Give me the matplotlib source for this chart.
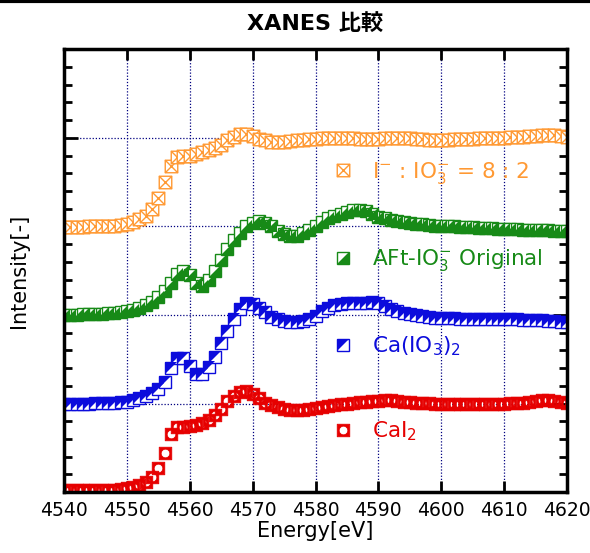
import numpy as np
import matplotlib
matplotlib.use('Agg')
import matplotlib.pyplot as plt
from matplotlib.path import Path
from matplotlib.lines import Line2D
from matplotlib.legend_handler import HandlerTuple

plt.rcParams['font.family'] = ['DejaVu Sans', 'Noto Sans CJK JP']

energy = np.arange(4540, 4621)  # eV, 1 eV step

# offset spectra (4540 .. 4620 eV)
cai2 = [0.02, 0.02, 0.02, 0.02, 0.02, 0.02, 0.025, 0.03, 0.03, 0.035,
        0.045, 0.06, 0.08, 0.12, 0.17, 0.27, 0.44, 0.66, 0.74, 0.74,
        0.75, 0.76, 0.78, 0.82, 0.87, 0.94, 1.03, 1.09, 1.13, 1.14,
        1.11, 1.06, 1.01, 0.98, 0.96, 0.94, 0.93, 0.93, 0.93, 0.94,
        0.95, 0.96, 0.97, 0.98, 0.99, 1.00, 1.01, 1.02, 1.02, 1.03,
        1.03, 1.04, 1.04, 1.03, 1.02, 1.02, 1.01, 1.01, 1.01, 1.00,
        1.00, 1.00, 1.00, 1.00, 1.00, 1.00, 1.00, 1.00, 1.00, 1.00,
        1.00, 1.01, 1.01, 1.01, 1.02, 1.03, 1.04, 1.04, 1.03, 1.02,
        1.01]
ca_io3 = [1.00, 1.00, 1.00, 1.00, 1.00, 1.01, 1.01, 1.01, 1.01, 1.02,
          1.02, 1.04, 1.06, 1.09, 1.12, 1.17, 1.24, 1.40, 1.52, 1.52,
          1.42, 1.33, 1.33, 1.41, 1.53, 1.68, 1.82, 1.95, 2.07, 2.13,
          2.12, 2.08, 2.03, 1.98, 1.95, 1.93, 1.92, 1.92, 1.93, 1.95,
          1.99, 2.04, 2.08, 2.11, 2.12, 2.13, 2.13, 2.13, 2.14, 2.15,
          2.13, 2.10, 2.07, 2.04, 2.02, 2.01, 2.00, 1.99, 1.98, 1.97,
          1.97, 1.97, 1.97, 1.96, 1.96, 1.96, 1.96, 1.96, 1.95, 1.95,
          1.95, 1.95, 1.95, 1.94, 1.94, 1.94, 1.94, 1.93, 1.93, 1.92,
          1.92]
aft = [2.00, 2.00, 2.00, 2.01, 2.01, 2.01, 2.01, 2.02, 2.02, 2.03,
       2.04, 2.06, 2.08, 2.11, 2.15, 2.20, 2.27, 2.36, 2.46, 2.50,
       2.45, 2.36, 2.33, 2.39, 2.50, 2.62, 2.74, 2.85, 2.93, 3.00,
       3.04, 3.06, 3.04, 3.00, 2.95, 2.91, 2.89, 2.89, 2.92, 2.96,
       3.01, 3.05, 3.09, 3.12, 3.14, 3.16, 3.18, 3.18, 3.17, 3.14,
       3.11, 3.09, 3.07, 3.06, 3.05, 3.04, 3.03, 3.03, 3.02, 3.01,
       3.01, 3.00, 3.00, 2.99, 2.99, 2.99, 2.98, 2.98, 2.98, 2.97,
       2.97, 2.97, 2.97, 2.96, 2.96, 2.96, 2.96, 2.96, 2.95, 2.95,
       2.95]
mix82 = [2.99, 2.99, 2.99, 2.99, 3.00, 3.00, 3.00, 3.00, 3.01, 3.02,
         3.03, 3.05, 3.08, 3.12, 3.20, 3.32, 3.50, 3.68, 3.78, 3.79,
         3.80, 3.82, 3.84, 3.86, 3.88, 3.92, 3.97, 4.01, 4.04, 4.04,
         4.02, 3.99, 3.97, 3.95, 3.95, 3.95, 3.96, 3.97, 3.98, 3.99,
         3.99, 4.00, 4.00, 4.00, 4.00, 4.00, 4.00, 3.99, 3.99, 3.99,
         3.99, 4.00, 4.00, 4.00, 4.00, 4.00, 3.99, 3.99, 3.98, 3.98,
         3.98, 3.98, 3.99, 3.99, 3.99, 3.99, 4.00, 4.00, 4.00, 4.00,
         4.00, 4.01, 4.01, 4.01, 4.02, 4.02, 4.03, 4.03, 4.03, 4.02,
         4.01]

labels = [r'I$^{-}$ : IO$_3^{-}$ = 8 : 2', r'AFt-IO$_3^{-}$ Original',
          r'Ca(IO$_3$)$_2$', r'CaI$_2$']
colors = ['#FF9933', '#178A17', '#0C0CDC', '#E60000']

# marker shapes
sq = [(-1, -1), (1, -1), (1, 1), (-1, 1), (-1, -1)]
sq_codes = [Path.MOVETO, Path.LINETO, Path.LINETO, Path.LINETO, Path.CLOSEPOLY]
m_cross = Path(sq + [(-1, -1), (1, 1), (-1, 1), (1, -1)],
               sq_codes + [Path.MOVETO, Path.LINETO, Path.MOVETO, Path.LINETO])
t = np.linspace(0, -2 * np.pi, 25)
circ = list(zip(0.7 * np.cos(t), 0.7 * np.sin(t)))
m_hole = Path(sq + circ, sq_codes + [Path.MOVETO] + [Path.LINETO] * 23 + [Path.CLOSEPOLY])
m_upleft = Path([(-1, -1), (-1, 1), (1, 1), (-1, -1)],
                [Path.MOVETO, Path.LINETO, Path.LINETO, Path.CLOSEPOLY])
m_lowright = Path([(-1, -1), (1, -1), (1, 1), (-1, -1)],
                  [Path.MOVETO, Path.LINETO, Path.LINETO, Path.CLOSEPOLY])

fig = plt.figure(figsize=(5.9, 5.53), dpi=100)
ax = fig.add_axes([0.1085, 0.110, 0.8525, 0.801])

ms = 9
mew = 1.0
h_or, = ax.plot(energy, mix82, ls='none', marker=m_cross, ms=ms, mew=mew,
                mec=colors[0], mfc='white')
g1, = ax.plot(energy, aft, ls='none', marker='s', ms=ms, mew=mew,
              mec=colors[1], mfc='white')
g2, = ax.plot(energy, aft, ls='none', marker=m_lowright, ms=ms, mew=0,
              mfc=colors[1])
b1, = ax.plot(energy, ca_io3, ls='none', marker='s', ms=ms, mew=mew,
              mec=colors[2], mfc='white')
b2, = ax.plot(energy, ca_io3, ls='none', marker=m_upleft, ms=ms, mew=0,
              mfc=colors[2])
h_red, = ax.plot(energy, cai2, ls='none', marker=m_hole, ms=ms, mew=0.6,
                 mec=colors[3], mfc=colors[3])

ax.set_xlim(4540, 4620)
ax.set_ylim(0, 5)
ax.set_xticks(np.arange(4540, 4621, 10))
ax.set_yticks(np.arange(0, 5.01, 1))
ax.set_yticks(np.arange(0, 5.01, 0.2), minor=True)
ax.set_yticklabels([])
ax.grid(True, color='#000080', linestyle=(0, (1, 1.5)), linewidth=0.9)
ax.tick_params(axis='both', which='both', direction='in', top=True, right=True,
               width=2)
ax.tick_params(axis='x', which='major', length=8, labelsize=13.5, pad=6)
ax.tick_params(axis='y', which='major', length=10)
ax.tick_params(axis='y', which='minor', length=6)
for s in ax.spines.values():
    s.set_linewidth(2.5)

ax.set_xlabel('Energy[eV]', fontsize=15, labelpad=1)
ax.set_ylabel('Intensity[-]', fontsize=15, labelpad=22)
ax.set_title('XANES 比較', fontsize=16, fontweight='bold', pad=14)

leg = ax.legend([h_or, (g1, g2), (b1, b2), h_red], labels,
                handler_map={tuple: HandlerTuple(ndivide=1)},
                loc='upper left', bbox_to_anchor=(0.535, 0.75), frameon=False,
                fontsize=15.5, handlelength=0.9, handletextpad=0.9,
                labelspacing=2.85, borderpad=0, borderaxespad=0,
                numpoints=1, labelcolor=colors, markerscale=1.0)

fig.add_artist(Line2D([0, 1], [0.998, 0.998], color='black', lw=3,
                      transform=fig.transFigure))

fig.savefig('out.png', dpi=100)
